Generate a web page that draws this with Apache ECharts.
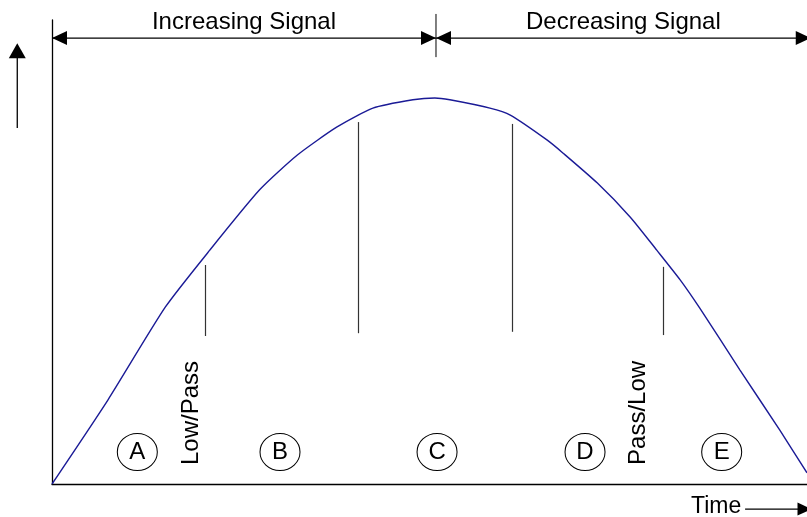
<!DOCTYPE html>
<html><head><meta charset="utf-8">
<script src="https://cdn.jsdelivr.net/npm/echarts@6/dist/echarts.min.js"></script>
<style>html,body{margin:0;padding:0;background:#fff}#c{width:807px;height:517px}</style>
</head><body><div id="c"></div>
<script>
// ---- data (time 0..100, signal 0..100) ----
const curveTime   = [0, 7.4, 15.0, 20.9, 27.5, 32.5, 37.7, 42.5, 47.8, 50.7, 52.7, 58.0, 60.7, 65.6, 67.7, 72.2, 76.6, 80.1, 83.2, 85.8, 91.1, 96.4, 100];
const curveSignal = [0, 18.1, 38.1, 50.4, 63.4, 70.9, 76.9, 81.0, 82.8, 83.2, 82.8, 81.0, 79.5, 74.1, 71.3, 64.9, 57.5, 50.4, 44.0, 37.9, 24.6, 11.6, 2.4];

const regionNames = ['A', 'B', 'C', 'D', 'E'];
const regionTime  = [11.3, 30.2, 51.0, 70.6, 88.7];
const regionLevel = 6.9;

const dividerTime   = [20.3, 40.5, 60.9, 80.9];
const dividerTop    = [47.2, 78.0, 77.6, 46.8];
const dividerBottom = [31.9, 32.5, 32.8, 32.1];

const thresholdLabels    = ['Low/Pass', 'Pass/Low'];
const thresholdLabelTime = [18.4, 77.7];
const thresholdLabelBase = 4.1;

const phaseLabels = ['Increasing Signal', 'Decreasing Signal'];
const phaseStart  = [0, 50.86];
const phaseEnd    = [50.86, 100.5];
const phaseLevel  = 96.1;
const peakTickTop = 101.3;
const peakTickBottom = 92.0;

const signalArrowTime = -4.6;
const signalArrowFrom = 76.7;
const signalArrowTo   = 95.0;

const timeLabel = 'Time';
const timeLabelEnd = 91.3;
const timeArrowFrom = 91.8;
const timeArrowTo = 100.6;
const timeLevel = -5.4;

// ---- chart ----
const FONT = '"Liberation Sans", Arial, sans-serif';
const chart = echarts.init(document.getElementById('c'));
const axisCommon = {
  type: 'value', min: 0, max: 100,
  axisLine: { show: true, onZero: false, lineStyle: { color: '#000', width: 1.3 } },
  axisTick: { show: false }, axisLabel: { show: false }, splitLine: { show: false }
};
chart.setOption({
  animation: false,
  grid: { left: 52, right: 0, top: 20, bottom: 33 },
  xAxis: axisCommon,
  yAxis: axisCommon,
  series: [
    {
      type: 'line', smooth: 0.2, symbol: 'none', clip: false,
      data: curveTime.map((t, i) => [t, curveSignal[i]]),
      lineStyle: { color: '#1a1a96', width: 1.4 },
      markLine: {
        silent: true, symbol: ['none', 'none'], label: { show: false },
        lineStyle: { color: '#333', type: 'solid', width: 1.2 },
        data: dividerTime.map((t, i) => [{ coord: [t, dividerTop[i]] }, { coord: [t, dividerBottom[i]] }])
      }
    },
    {
      type: 'scatter', symbol: 'circle', symbolSize: [40, 37],
      data: regionNames.map((n, i) => ({ name: n, value: [regionTime[i], regionLevel] })),
      itemStyle: { color: '#fff', borderColor: '#000', borderWidth: 1, opacity: 1 },
      label: { show: true, position: 'inside', formatter: '{b}', color: '#000', fontSize: 24, fontFamily: FONT, textBorderWidth: 0 },
      emphasis: { disabled: true }
    }
  ]
});

// ---- annotations positioned through the axes ----
const P = (t, s) => chart.convertToPixel({ gridIndex: 0 }, [t, s]);
function head(x, y, dir, len, half) {
  if (dir === 'r') return [[x, y], [x - len, y - half], [x - len, y + half]];
  if (dir === 'l') return [[x, y], [x + len, y - half], [x + len, y + half]];
  return [[x, y], [x - half, y + len], [x + half, y + len]];
}
const g = [];
const lineStyle = { stroke: '#000', lineWidth: 1.3 };
phaseLabels.forEach((lab, i) => {
  const a = P(phaseStart[i], phaseLevel), b = P(phaseEnd[i], phaseLevel);
  g.push({ type: 'line', shape: { x1: a[0], y1: a[1], x2: b[0], y2: b[1] }, style: lineStyle });
  g.push({ type: 'polygon', shape: { points: head(a[0], a[1], 'l', 15, 7) }, style: { fill: '#000' } });
  g.push({ type: 'polygon', shape: { points: head(b[0], b[1], 'r', 15, 7) }, style: { fill: '#000' } });
  g.push({ type: 'text', x: (a[0] + b[0]) / 2, y: a[1] - 16,
    style: { text: lab, font: '24px ' + FONT, fill: '#000', textAlign: 'center', textVerticalAlign: 'middle' } });
});
{
  const a = P(phaseEnd[0], peakTickTop), b = P(phaseEnd[0], peakTickBottom);
  g.push({ type: 'line', shape: { x1: a[0], y1: a[1], x2: b[0], y2: b[1] }, style: { stroke: '#000', lineWidth: 1 } });
}
{
  const a = P(signalArrowTime, signalArrowFrom), b = P(signalArrowTime, signalArrowTo);
  g.push({ type: 'line', shape: { x1: a[0], y1: a[1], x2: b[0], y2: b[1] + 10 }, style: lineStyle });
  g.push({ type: 'polygon', shape: { points: head(b[0], b[1], 'u', 15, 8.5) }, style: { fill: '#000' } });
}
{
  const a = P(timeArrowFrom, timeLevel), b = P(timeArrowTo, timeLevel);
  g.push({ type: 'line', shape: { x1: a[0], y1: a[1], x2: b[0], y2: b[1] }, style: lineStyle });
  g.push({ type: 'polygon', shape: { points: head(b[0], b[1], 'r', 14, 6.5) }, style: { fill: '#000' } });
  const t = P(timeLabelEnd, timeLevel);
  g.push({ type: 'text', x: t[0], y: t[1] - 2,
    style: { text: timeLabel, font: '23px ' + FONT, fill: '#000', textAlign: 'right', textVerticalAlign: 'middle' } });
}
thresholdLabels.forEach((lab, i) => {
  const p = P(thresholdLabelTime[i], thresholdLabelBase);
  g.push({ type: 'text', x: p[0], y: p[1], rotation: Math.PI / 2,
    style: { text: lab, font: '24px ' + FONT, fill: '#000', textAlign: 'left', textVerticalAlign: 'middle' } });
});
chart.setOption({ graphic: g });
</script>
</body></html>
